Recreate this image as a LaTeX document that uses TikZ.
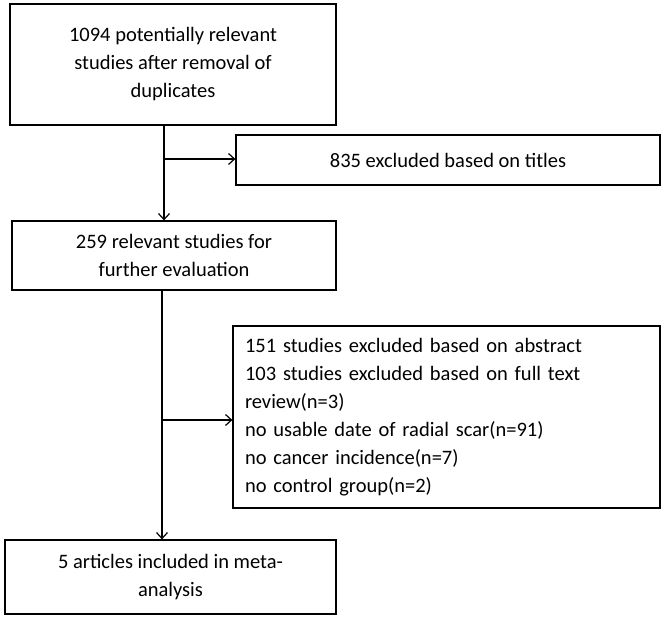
\documentclass[tikz,border=0pt]{standalone}
\usepackage{fontspec}
\setmainfont{Carlito}
\usepackage{tikz}
\usetikzlibrary{arrows.meta, positioning}

\begin{document}
\begin{tikzpicture}[x=1pt, y=-1pt,
      box/.style={rectangle, draw, line width=1.2pt, inner sep=0pt,
        font=\fontsize{20.5}{28}\selectfont},
      flow/.style={-{Straight Barb[length=6pt, width=11pt]}, line width=1.2pt}]
      \useasboundingbox (0,0) rectangle (662,619);

      \node[box, minimum width=326pt, minimum height=121pt, align=center] (found) at (173,64.5)
        {1094 potentially relevant\\ studies after removal of\\ duplicates};
      \node[box, minimum width=424pt, minimum height=50pt] (titles) at (448,160)
        {835 excluded based on titles};
      \node[box, minimum width=324pt, minimum height=69pt, align=center] (relevant) at (174,255.5)
        {259 relevant studies for\\ further evaluation};
      \node[box, minimum width=427pt, minimum height=182pt, align=left, text width=403pt] (excluded) at (446.5,417)
        {151 studies excluded based on abstract\\
         103 studies excluded based on full text\\
         review(n=3)\\
         no usable date of radial scar(n=91)\\
         no cancer incidence(n=7)\\
         no control group(n=2)};
      \node[box, minimum width=331pt, minimum height=74pt, align=center] (included) at (170.5,577)
        {5 articles included in meta-\\ analysis};

      % Main flow
      \coordinate (top1) at (164,125);
      \coordinate (top2) at (162,290);
      \draw[flow] (top1) -- (top1 |- relevant.north);
      \draw[flow] (top2) -- (top2 |- included.north);

      % Exclusions
      \coordinate (side1) at (164,159);
      \coordinate (side2) at (162,420);
      \draw[flow] (side1) -- (side1 -| titles.west);
      \draw[flow] (side2) -- (side2 -| excluded.west);
\end{tikzpicture}
\end{document}
